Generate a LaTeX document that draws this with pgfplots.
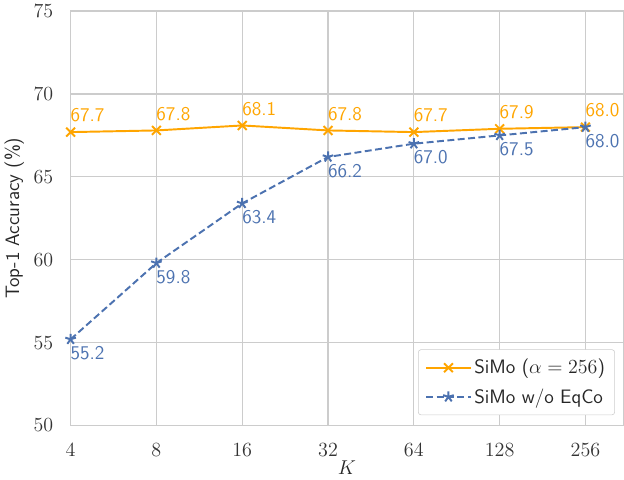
\documentclass[border=0pt]{standalone}
\usepackage{pgfplots}
\pgfplotsset{compat=1.18}
\definecolor{sorange}{HTML}{FFA500}
\definecolor{sblue}{HTML}{4C72B0}
\definecolor{gridc}{HTML}{CCCCCC}
\begin{document}
\begin{tikzpicture}[x=1pt,y=1pt]
\begin{axis}[
  scale only axis,
  width=398pt, height=298.5pt,
  xmin=0, xmax=6.44, ymin=50, ymax=75,
  xtick={0,1,2,3,4,5,6},
  xticklabels={4,8,16,32,64,128,256},
  ytick={50,55,60,65,70,75},
  grid=major,
  major grid style={gridc, line width=0.8pt},
  axis line style={gridc, line width=1pt},
  tick style={draw=none},
  tick label style={font=\fontsize{14.5}{16}\selectfont, text=black!80},
  yticklabel style={xshift=-9pt},
  xticklabel style={yshift=-9pt},
  xlabel={$K$},
  ylabel={\sffamily Top-1 Accuracy (\%)},
  label style={font=\fontsize{14}{16}\selectfont, text=black!85},
  xlabel style={yshift=4pt},
  ylabel style={yshift=0pt},
  legend style={at={(0.985,0.025)}, anchor=south east, draw=gridc, rounded corners=2pt,
    font=\sffamily\fontsize{14}{16}\selectfont, text=black!85, row sep=5pt, inner sep=5pt},
  legend image code/.code={\draw[mark repeat=2,mark phase=2,#1] plot coordinates {(0pt,0pt) (16pt,0pt) (32pt,0pt)};},
  legend cell align=left,
  clip=false,
]
\addplot[sorange, line width=1.4pt, mark=x, mark size=4.5pt,
  nodes near coords, point meta=explicit symbolic,
  every node near coord/.style={anchor=south west, xshift=-4pt, yshift=3pt,
    font=\sffamily\fontsize{14}{16}\selectfont, text=sorange}]
 table[meta=l] {
x y l
0 67.7 67.7
1 67.8 67.8
2 68.1 68.1
3 67.8 67.8
4 67.7 67.7
5 67.9 67.9
6 68.0 68.0
};
\addlegendentry{SiMo ($\alpha=256$)}
\addplot[sblue, line width=1.4pt, dash pattern=on 5pt off 2.5pt, mark=star, mark size=4pt, mark options={solid},
  nodes near coords, point meta=explicit symbolic,
  every node near coord/.style={anchor=north west, xshift=-4pt, yshift=-1pt,
    font=\sffamily\fontsize{14}{16}\selectfont, text=sblue}]
 table[meta=l] {
x y l
0 55.2 55.2
1 59.8 59.8
2 63.4 63.4
3 66.2 66.2
4 67.0 67.0
5 67.5 67.5
6 68.0 68.0
};
\addlegendentry{SiMo w/o EqCo}
\end{axis}
\end{tikzpicture}
\end{document}
